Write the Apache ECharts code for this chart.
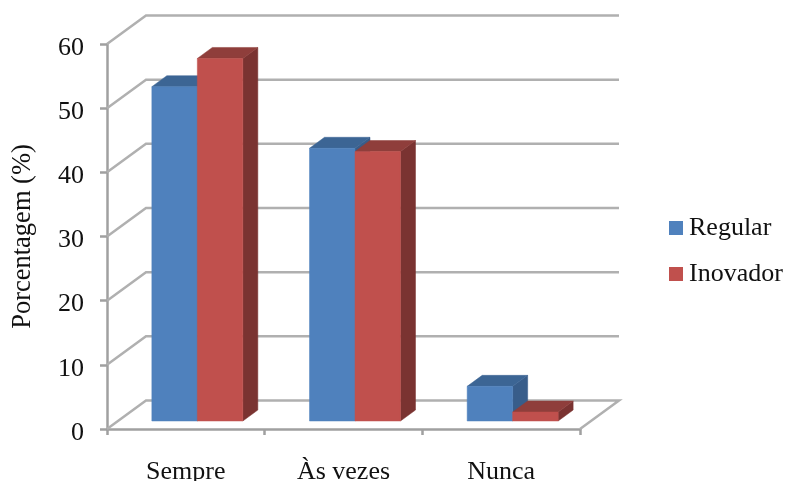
<!DOCTYPE html>
<html>
<head>
<meta charset="utf-8">
<style>html,body{margin:0;padding:0;background:#fff}#chart{width:787px;height:481px}</style>
<script src="https://cdn.jsdelivr.net/npm/echarts@6/dist/echarts.min.js"></script>
</head>
<body>
<div id="chart"></div>
<script>
const categories = ['Sempre', 'Às vezes', 'Nunca'];
const regular = [52.1, 42.5, 5.4];
const inovador = [56.5, 42.0, 1.4];
const ticks = [0, 10, 20, 30, 40, 50, 60];

// Oblique projection of the 3D box, in pixels
const wallDx = 39, wallDy = -28.5;
const barInsetX = 11.5, barInsetY = -8;
const barDx = 15, barDy = -11;
const barShare = 0.2885;

const gridColor = '#b0b0b0';
const axisColor = '#a0a0a0';
const textColor = '#111111';
const serif = '"Liberation Serif", "Times New Roman", serif';

function renderWalls(params, api) {
  const value = api.value(0);
  const size = api.size([1, 0]);
  const start = api.coord([0, value]);
  const startX = start[0] - size[0] / 2, y = start[1];
  const endX = startX + size[0] * categories.length;
  const points = [[startX, y], [startX + wallDx, y + wallDy], [endX + wallDx, y + wallDy]];
  if (value === 0) points.push([endX, y]);
  return {
    type: 'polyline',
    shape: { points },
    style: { stroke: gridColor, lineWidth: 2.5, fill: null }
  };
}

function barRenderer(side, front, top, shade) {
  return function (params, api) {
    const cat = api.value(0);
    const size = api.size([1, 0]);
    const w = size[0] * barShare;
    const base = api.coord([cat, 0]);
    const head = api.coord([cat, api.value(1)]);
    const x0 = base[0] + barInsetX + side * w;
    const x1 = x0 + w;
    const y0 = base[1] + barInsetY;
    const y1 = head[1] + barInsetY;
    const poly = (points, fill) => ({
      type: 'polygon',
      shape: { points },
      style: { fill, stroke: fill, lineWidth: 0.5 }
    });
    return {
      type: 'group',
      children: [
        poly([[x1, y0], [x1 + barDx, y0 + barDy], [x1 + barDx, y1 + barDy], [x1, y1]], shade),
        poly([[x0, y1], [x0 + barDx, y1 + barDy], [x1 + barDx, y1 + barDy], [x1, y1]], top),
        poly([[x0, y0], [x1, y0], [x1, y1], [x0, y1]], front)
      ]
    };
  };
}

const chart = echarts.init(document.getElementById('chart'), null, { renderer: 'canvas' });
chart.setOption({
  animation: false,
  backgroundColor: '#ffffff',
  textStyle: { fontFamily: serif },
  grid: { left: 107, right: 207, top: 44, bottom: 52, containLabel: false, outerBoundsMode: 'none' },
  legend: {
    orient: 'vertical',
    left: 669,
    top: 212,
    padding: 0,
    icon: 'rect',
    itemWidth: 14,
    itemHeight: 14,
    itemGap: 14,
    textStyle: { fontFamily: serif, fontSize: 26, color: textColor, lineHeight: 26, padding: [6, 0, 0, 1] },
    data: ['Regular', 'Inovador']
  },
  xAxis: {
    type: 'category',
    data: categories,
    axisLine: { lineStyle: { color: axisColor, width: 2.5 } },
    axisTick: { show: true, length: 6, lineStyle: { color: axisColor, width: 2.5 } },
    axisLabel: { fontFamily: serif, fontSize: 26, color: textColor, margin: 30 }
  },
  yAxis: {
    type: 'value',
    min: 0,
    max: 60,
    interval: 10,
    name: 'Porcentagem (%)',
    nameLocation: 'middle',
    nameGap: 70,
    nameRotate: 90,
    nameTextStyle: { fontFamily: serif, fontSize: 26.5, color: textColor },
    axisLine: { show: true, lineStyle: { color: axisColor, width: 2.5 } },
    axisTick: { show: true, length: 7, lineStyle: { color: axisColor, width: 2.5 } },
    axisLabel: { fontFamily: serif, fontSize: 26, color: textColor, margin: 23, verticalAlign: 'top', lineHeight: 8 },
    splitLine: { show: false }
  },
  series: [
    {
      type: 'custom',
      name: 'walls',
      silent: true,
      z: 1,
      renderItem: renderWalls,
      encode: { y: 0 },
      data: ticks.map(v => [v])
    },
    {
      type: 'custom',
      name: 'Regular',
      z: 3,
      itemStyle: { color: '#4f81bd' },
      renderItem: barRenderer(-1, '#4f81bd', '#3c6594', '#385d8a'),
      encode: { x: 0, y: 1 },
      data: regular.map((v, i) => [i, v])
    },
    {
      type: 'custom',
      name: 'Inovador',
      z: 4,
      itemStyle: { color: '#c0504d' },
      renderItem: barRenderer(0, '#c0504d', '#8f3e3b', '#7a3331'),
      encode: { x: 0, y: 1 },
      data: inovador.map((v, i) => [i, v])
    }
  ]
});
</script>
</body>
</html>
